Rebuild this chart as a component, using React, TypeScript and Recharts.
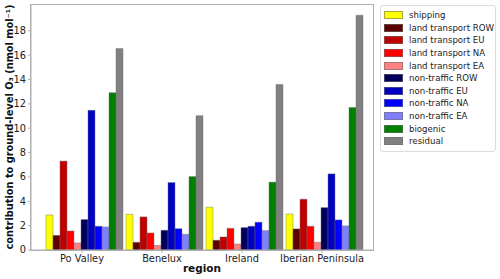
import { Bar, BarChart, XAxis, YAxis } from 'recharts';

const regions = ['Po Valley', 'Benelux', 'Ireland', 'Iberian Peninsula'];

const shipping = [2.88, 2.93, 3.52, 2.96];
const ltRow = [1.2, 0.63, 0.8, 1.73];
const ltEu = [7.3, 2.72, 1.07, 4.17];
const ltNa = [1.56, 1.4, 1.78, 1.95];
const ltEa = [0.58, 0.38, 0.49, 0.63];
const ntRow = [2.5, 1.62, 1.84, 3.48];
const ntEu = [11.47, 5.54, 1.95, 6.25];
const ntNa = [1.95, 1.75, 2.28, 2.47];
const ntEa = [1.89, 1.29, 1.59, 1.98];
const biogenic = [12.92, 6.03, 5.57, 11.7];
const residual = [16.54, 11.03, 13.6, 19.28];

const yTicks = [0, 2, 4, 6, 8, 10, 12, 14, 16, 18];

const series = [
  { key: 'shipping', name: 'shipping', color: '#ffff00', values: shipping },
  { key: 'ltRow', name: 'land transport ROW', color: '#5c0000', values: ltRow },
  { key: 'ltEu', name: 'land transport EU', color: '#c00000', values: ltEu },
  { key: 'ltNa', name: 'land transport NA', color: '#ff0000', values: ltNa },
  { key: 'ltEa', name: 'land transport EA', color: '#ff8080', values: ltEa },
  { key: 'ntRow', name: 'non-traffic ROW', color: '#00005c', values: ntRow },
  { key: 'ntEu', name: 'non-traffic EU', color: '#0000c0', values: ntEu },
  { key: 'ntNa', name: 'non-traffic NA', color: '#0000ff', values: ntNa },
  { key: 'ntEa', name: 'non-traffic EA', color: '#8080ff', values: ntEa },
  { key: 'biogenic', name: 'biogenic', color: '#008000', values: biogenic },
  { key: 'residual', name: 'residual', color: '#808080', values: residual },
];

const data = regions.map((region, i) => {
  const row: Record<string, string | number> = { region };
  series.forEach((s) => {
    row[s.key] = s.values[i];
  });
  return row;
});

const FONT = '"DejaVu Sans", sans-serif';
const AXIS = '#b0b0b0';

// legend drawn as plain html so it doesn't eat into the plot area
function LegendBox() {
  return (
    <div
      style={{
        position: 'absolute',
        left: 380,
        top: 5,
        width: 116,
        boxSizing: 'border-box',
        border: '1px solid #dcdcdc',
        borderRadius: 3,
        padding: '3px 0',
        background: '#fff',
        fontFamily: FONT,
        fontSize: 8.6,
        color: '#222',
      }}
    >
      {series.map((s) => (
        <div key={s.key} style={{ display: 'flex', alignItems: 'center', height: 12.6 }}>
          <span
            style={{
              display: 'inline-block',
              flex: 'none',
              marginLeft: 3,
              width: 17,
              height: 6,
              background: s.color,
              border: '0.5px solid rgba(110,110,110,0.6)',
            }}
          />
          <span style={{ marginLeft: 6, whiteSpace: 'nowrap' }}>{s.name}</span>
        </div>
      ))}
    </div>
  );
}

export default function App() {
  return (
    <div style={{ position: 'absolute', left: 0, top: 0, width: 500, height: 279, background: '#fff' }}>
      <BarChart
        width={500}
        height={279}
        data={data}
        margin={{ top: 4, right: 127, bottom: 0, left: 0 }}
        barCategoryGap={4}
        barGap={0}
      >
        <XAxis
          dataKey="region"
          height={29}
          padding={{ left: 11, right: 11 }}
          axisLine={{ stroke: AXIS }}
          tickLine={{ stroke: AXIS }}
          tickSize={3}
          tick={{ fill: '#222', fontSize: 9.8, fontFamily: FONT }}
          interval={0}
          label={{
            content: ({ viewBox }: any) => (
              <text
                x={viewBox.x + viewBox.width / 2}
                y={272}
                textAnchor="middle"
                fontFamily={FONT}
                fontWeight="bold"
                fontSize={10.5}
                fill="#111"
              >
                region
              </text>
            ),
          }}
        />
        <YAxis
          width={31}
          domain={[0, 20.2]}
          ticks={yTicks}
          allowDataOverflow
          axisLine={{ stroke: AXIS }}
          tickLine={{ stroke: AXIS }}
          tickSize={3}
          tick={{ fill: '#222', fontSize: 9.8, fontFamily: FONT }}
          label={{
            content: ({ viewBox }: any) => {
              const cy = viewBox.y + viewBox.height / 2;
              return (
                <text
                  x={9}
                  y={cy}
                  transform={`rotate(-90, 9, ${cy})`}
                  textAnchor="middle"
                  dominantBaseline="central"
                  fontFamily={FONT}
                  fontWeight="bold"
                  fontSize={9.8}
                  fill="#111"
                >
                  contribution to ground-level O₃ (nmol mol⁻¹)
                </text>
              );
            },
          }}
        />
        {series.map((s) => (
          <Bar
            key={s.key}
            dataKey={s.key}
            name={s.name}
            fill={s.color}
            stroke="rgba(110,110,110,0.55)"
            strokeWidth={0.8}
            isAnimationActive={false}
          />
        ))}
      </BarChart>
      <div
        style={{
          position: 'absolute',
          left: 30,
          top: 4,
          width: 344,
          height: 247,
          border: `1px solid ${AXIS}`,
          boxSizing: 'border-box',
          pointerEvents: 'none',
        }}
      />
      <LegendBox />
    </div>
  );
}
